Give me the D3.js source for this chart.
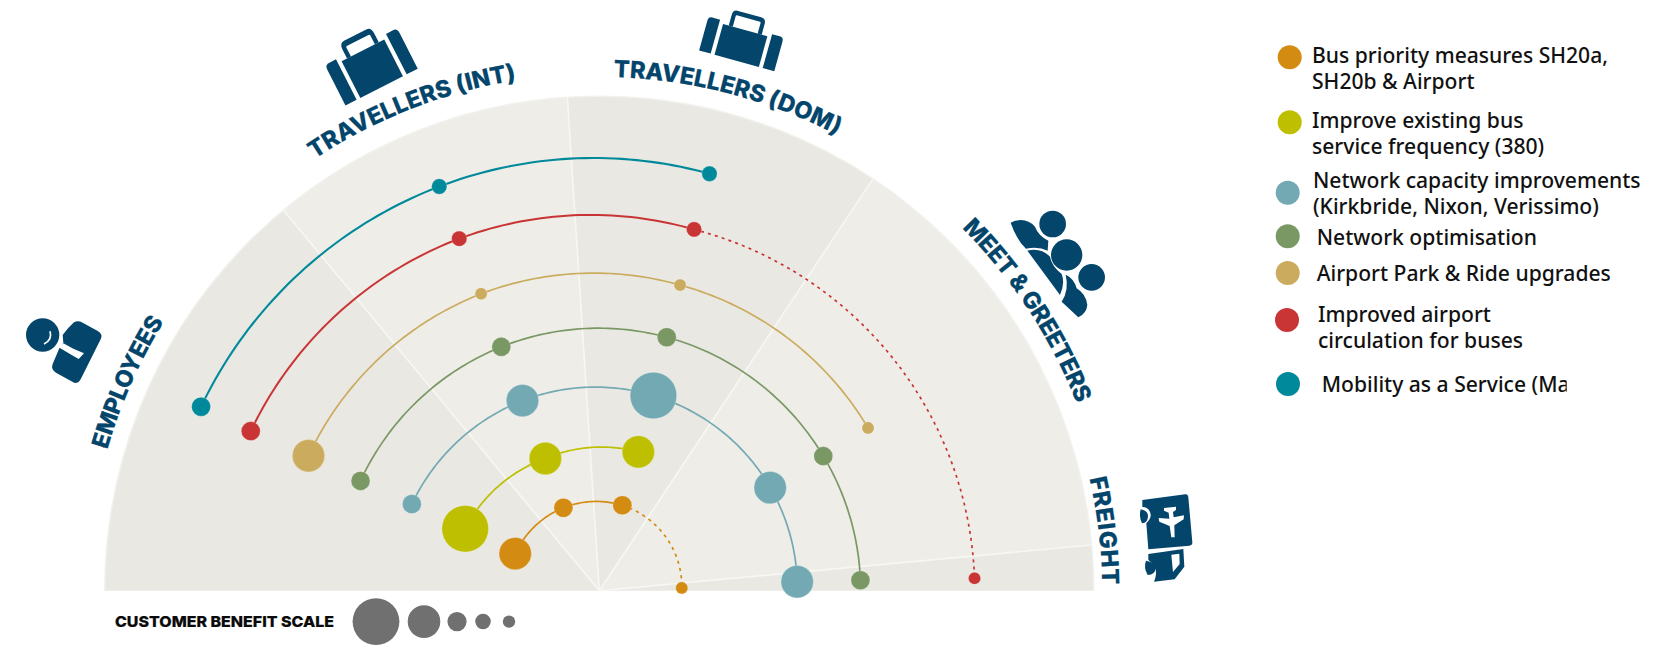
<!DOCTYPE html>
<html><head><meta charset="utf-8">
<script src="https://cdn.jsdelivr.net/npm/d3@7"></script>
<style>
html,body{margin:0;padding:0;background:#fff}
svg{display:block}
.leg{font-family:"Noto Sans",sans-serif;font-weight:500;font-size:21.1px;fill:#111}
.lab{font-family:Inter,Lato,sans-serif;font-weight:800;font-size:23.5px;fill:#03456b;stroke:#03456b;stroke-width:.2px}
</style></head><body>
<svg id="c" width="1653" height="652"></svg>
<script>
// Stakeholder sectors, clockwise from the left: boundaries in degrees from north
const sectorNames = ["EMPLOYEES","TRAVELLERS (INT)","TRAVELLERS (DOM)","MEET & GREETERS","FREIGHT"];
const sectorEdges = [-90,-39.7,-3.7,33.6,84.7,90];
const labelStart = [-74,-33.4,1.6,45,77.1];
const labelEnd   = [-58.3,-9.3,27.4,68.6,89.3];
const labelReach = [103.6,104.7,104,103.8,101.8];

// Initiatives: angle (deg from north), reach (% of fan radius), customer benefit (1-5)
const initiativeNames = ["Bus priority measures SH20a,|SH20b & Airport","Improve existing bus|service frequency (380)","Network capacity improvements|(Kirkbride, Nixon, Verissimo)","Network optimisation","Airport Park & Ride upgrades","Improved airport|circulation for buses","Mobility as a Service (MaaS)"];
const busAngle = [-66.2,-23.4,15.1,88.1];
const busReach = [18.6,18.3,17.9,16.7];
const busBenefit = [4,3,3,1];
const limeAngle = [-65.2,-22.2,15.7];
const limeReach = [29.9,28.9,29.2];
const limeBenefit = [5,4,4];
const capAngle = [-65.2,-22,15.5,58.9,87.4];
const capReach = [41.8,41.5,41,40.4,40.1];
const capBenefit = [3,4,5,4,4];
const optAngle = [-65.3,-21.9,14.9,59,87.7];
const optReach = [53.2,53.2,53.1,52.9,52.9];
const optBenefit = [3,3,3,3,3];
const parkAngle = [-65.1,-21.7,14.8,58.8];
const parkReach = [64.9,64.7,64,63.6];
const parkBenefit = [4,1,1,1];
const redAngle = [-65.4,-21.7,14.7,88.1];
const redReach = [77.6,76.7,75.6,76];
const redBenefit = [3,2,2,1];
const maasAngle = [-65.2,-21.6,14.8];
const maasReach = [88.8,88,87.3];
const maasBenefit = [3,2,2];
const solidStops = [3,3,5,5,4,3,3];
const scaleBenefits = [5,4,3,2,1];
const scaleTitle = "CUSTOMER BENEFIT SCALE";

const colours = ["#d38b12","#bdbf00","#72a9b2","#7a9864","#cbac5f","#c93535","#00899a"];
const widths = [1.7,1.7,1.7,1.7,1.7,2,2.1];
const dashes = ["3.2 4.2","","","","","3 4.2",""];
const legendX = [1289.7,1289.7,1287.7,1287.7,1287.7,1287,1288];
const legendY = [57.3,122.3,192.7,236.3,273,320,384];
const legendTextX = [1312,1312,1313,1316.7,1316.7,1318,1321.7];
const legendTextY = [63.3,128.3,187.7,245,280.7,322,392];

const series = [
 [busAngle,busReach,busBenefit],[limeAngle,limeReach,limeBenefit],[capAngle,capReach,capBenefit],
 [optAngle,optReach,optBenefit],[parkAngle,parkReach,parkBenefit],[redAngle,redReach,redBenefit],[maasAngle,maasReach,maasBenefit]
];

const svg = d3.select("#c");
const cx = 599.3, cy = 590.7, R = 494.5;
const rad = d3.scaleLinear().domain([-90,90]).range([-Math.PI/2,Math.PI/2]);
const reach = d3.scaleLinear().domain([0,100]).range([0,494]);
const size = d3.scaleOrdinal().domain([1,2,3,4,5]).range([6.1,7.65,9.5,16.2,23.3]);
const fan = svg.append("g").attr("transform",`translate(${cx},${cy})`);

// sectors
const arc = d3.arc();
fan.selectAll("path.sec").data(sectorNames).join("path").attr("class","sec")
  .attr("d",(d,i)=>arc({innerRadius:0,outerRadius:R,startAngle:rad(sectorEdges[i]),endAngle:rad(sectorEdges[i+1])}))
  .attr("fill",(d,i)=>i%2?"#eeede8":"#e9e8e3");
fan.append("path").attr("fill","none").attr("stroke","#f1f1ed").attr("stroke-width",1.5)
  .attr("d",arc({innerRadius:R,outerRadius:R,startAngle:rad(-90),endAngle:rad(90)}));
fan.selectAll("line.div").data(sectorEdges.slice(1,5)).join("line").attr("class","div")
  .attr("x1",0).attr("y1",0)
  .attr("x2",d=>R*Math.sin(rad(d))).attr("y2",d=>-R*Math.cos(rad(d)))
  .attr("stroke","#f7f7f3").attr("stroke-width",1.6);

// lines
const radial = d3.lineRadial().angle(d=>rad(d[0])).radius(d=>reach(d[1]));
function sweep(a,r,from,to){
  const out=[];
  for(let i=from;i<to;i++){
    const n=Math.ceil(Math.abs(a[i+1]-a[i]));
    for(let k=0;k<=n;k++) out.push([d3.interpolateNumber(a[i],a[i+1])(k/n),d3.interpolateNumber(r[i],r[i+1])(k/n)]);
  }
  return out;
}
series.forEach((s,i)=>{
  const g=fan.append("g");
  const last=solidStops[i]-1;
  g.append("path").attr("d",radial(sweep(s[0],s[1],0,last))).attr("fill","none")
    .attr("stroke",colours[i]).attr("stroke-width",widths[i]);
  if(last<s[0].length-1)
    g.append("path").attr("d",radial(sweep(s[0],s[1],last,s[0].length-1))).attr("fill","none")
      .attr("stroke",colours[i]).attr("stroke-width",1.7).attr("stroke-dasharray",dashes[i]);
  g.selectAll("circle").data(s[0].map((a,k)=>({a,r:s[1][k],b:s[2][k]}))).join("circle")
    .attr("cx",d=>reach(d.r)*Math.sin(rad(d.a))).attr("cy",d=>-reach(d.r)*Math.cos(rad(d.a)))
    .attr("r",d=>size(d.b)).attr("fill",colours[i])
    .attr("stroke","#fff").attr("stroke-opacity",.3).attr("stroke-width",.8);
});

// curved stakeholder labels
const defs=svg.append("defs");
sectorNames.forEach((name,i)=>{
  const rr=reach(labelReach[i]);
  const a0=rad(labelStart[i]), a1=rad(labelEnd[i]);
  const id="lp"+i;
  const extra=.25;
  defs.append("path").attr("id",id).attr("d",
    `M${rr*Math.sin(a0)},${-rr*Math.cos(a0)}A${rr},${rr} 0 0 1 ${rr*Math.sin(a1+extra)},${-rr*Math.cos(a1+extra)}`);
  const t=fan.append("text").attr("class","lab");
  t.append("textPath").attr("href","#"+id).text(name);
  const target=rr*(a1-a0);
  const len=t.node().getComputedTextLength();
  t.style("letter-spacing",((target-len)/(name.length-1))+"px");
});

// icons
const navy="#03456b";
const icons=svg.append("g").attr("fill",navy);
function suitcase(x,y,rot,kx,ky,top){
  const g=icons.append("g").attr("transform",`translate(${x},${y}) rotate(${rot}) scale(${kx},${ky})`);
  g.append("rect").attr("x",-23).attr("y",-15).attr("width",46).attr("height",29);
  g.append("path").attr("d","M-27,-18V14H-39V-14Q-39,-18 -35,-18Z");
  g.append("path").attr("d","M27,-18V14H39V-14Q39,-18 35,-18Z");
  g.append("path").attr("d",`M-15,-15V${top+3}Q-15,${top} -12,${top}H12Q15,${top} 15,${top+3}V-15`)
    .attr("fill","none").attr("stroke",navy).attr("stroke-width",4.2);
}
suitcase(372.6,69.4,-27,1.04,1.42,-25);
suitcase(740.8,46,15.5,1,1.1,-28);

const emp=icons.append("g").attr("transform","translate(10,290) scale(.3333)");
emp.append("circle").attr("cx",98).attr("cy",135).attr("r",50);
emp.append("path").attr("d","M120,124Q128,150 102,162").attr("fill","none").attr("stroke","#fff").attr("stroke-width",5);
emp.append("path").attr("d","M192,97Q204,90 218,98L262,122Q280,132 272,148L212,268Q203,285 187,275L138,248Q122,238 128,222L148,175L160,158L158,135Q172,115 192,97Z");
emp.append("path").attr("fill","#fff").attr("d","M146,172L160,160L190,176L222,190L206,207L180,192Z");

const ppl=icons.append("g").attr("transform","translate(950,200) scale(.3333)");
ppl.append("circle").attr("cx",308).attr("cy",72).attr("r",40);
ppl.append("circle").attr("cx",350).attr("cy",165).attr("r",47);
ppl.append("circle").attr("cx",425).attr("cy",232).attr("r",40);
ppl.append("path").attr("d","M182,68Q225,48 255,80Q265,107 295,122L293,152Q265,138 228,146Q200,120 182,68Z");
ppl.append("path").attr("d","M232,152Q272,142 300,170Q305,198 335,222Q346,250 330,285Z");
ppl.append("path").attr("d","M347,224Q372,235 380,265Q408,282 412,315Q410,340 385,352L335,305Q358,270 347,224Z");

const fr=icons.append("g").attr("transform","translate(1080,460) scale(.3333)");
fr.append("path").attr("d","M187,120L316,103Q324,102 325,112L337,246Q338,256 328,257L205,268L199,190Q222,168 205,148Q197,140 187,141Z");
fr.append("path").attr("d","M182,148Q205,152 204,170Q203,188 186,190Q176,170 182,148Z");
fr.append("path").attr("fill","#fff").attr("d","M252,144L288,140L288,150L279,156L281,172L312,166L311,178L283,196L284,232L274,232L269,198L238,185L236,174L268,176L266,158L252,152Z");
fr.append("path").attr("d","M205,282L310,267L313,320L284,358L222,365Q240,325 205,300Z");
fr.append("path").attr("fill","#fff").attr("d","M274,284L298,281L299,312L279,336Z");
fr.append("path").attr("d","M198,302Q225,306 227,325Q226,344 203,345Q190,322 198,302Z");

// benefit scale
svg.append("text").text(scaleTitle).attr("x",115).attr("y",627)
  .attr("font-family","Inter,Lato,sans-serif").attr("font-weight",800).attr("font-size",15)
  .attr("fill","#0a0a0a").attr("stroke","#0a0a0a").attr("stroke-width",.2)
  .attr("textLength",219).attr("lengthAdjust","spacingAndGlyphs");
const scaleOffsets=[376,424,457,483,509];
svg.selectAll("circle.sc").data(scaleBenefits).join("circle").attr("class","sc")
  .attr("cx",(d,i)=>scaleOffsets[i]).attr("cy",621.6).attr("r",d=>size(d)+.1).attr("fill","#707070");

// legend
const clip=svg.append("defs").append("clipPath").attr("id","lg");
clip.append("rect").attr("x",1180).attr("y",0).attr("width",473).attr("height",370);
clip.append("rect").attr("x",1180).attr("y",370).attr("width",386.7).attr("height",60);
const lg=svg.append("g").attr("clip-path","url(#lg)");
initiativeNames.forEach((n,i)=>{
  lg.append("circle").attr("cx",legendX[i]).attr("cy",legendY[i]).attr("r",12).attr("fill",colours[i]);
  n.split("|").forEach((line,k)=>{
    lg.append("text").attr("class","leg").attr("x",legendTextX[i]).attr("y",legendTextY[i]+k*26).text(line);
  });
});
</script></body></html>
